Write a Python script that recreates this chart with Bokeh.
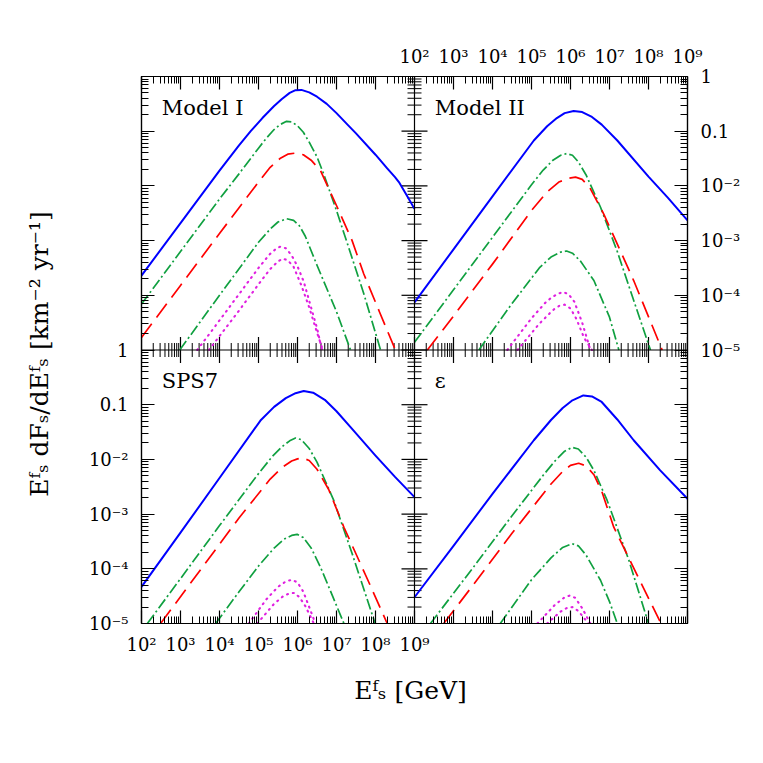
import numpy as np
from bokeh.plotting import figure
from bokeh.models import Range1d, LogAxis, FixedTicker, CustomJSTickFormatter, Label, Span
from bokeh.embed import file_html
from bokeh.resources import INLINE

# ---------------- data (log10 E [GeV], log10 flux) ----------------
panel_titles = ["Model I", "Model II", "SPS7", "ε"]
x_exps = [2, 3, 4, 5, 6, 7, 8, 9]
x_labels = ["10²", "10³", "10⁴", "10⁵", "10⁶", "10⁷", "10⁸", "10⁹"]
y_exps = [0, -1, -2, -3, -4, -5]
y_labels = ["1", "0.1", "10⁻²", "10⁻³", "10⁻⁴", "10⁻⁵"]
x_title = "Eᶠₛ  [GeV]"
y_title = "Eᶠₛ dFₛ/dEᶠₛ  [km⁻² yr⁻¹]"

# Model I
m1_tot_lx = [2.0, 3.0, 4.0, 4.5, 4.8, 5.1, 5.4, 5.6, 5.8, 5.95, 6.1, 6.3, 6.5, 6.75, 7.0, 7.27, 7.5, 8.0, 8.3, 8.5, 8.6, 8.8, 9.0]
m1_tot_ly = [-3.64, -2.68, -1.72, -1.26, -1.0, -0.76, -0.54, -0.41, -0.30, -0.25, -0.245, -0.29, -0.37, -0.5, -0.67, -0.87, -1.04, -1.43, -1.68, -1.84, -1.93, -2.17, -2.42]
m1_gA_lx = [2.0, 3.0, 4.0, 4.5, 5.0, 5.2, 5.4, 5.55, 5.72, 5.85, 6.0, 6.15, 6.3, 6.5, 6.67, 7.0, 7.3, 7.7, 8.13]
m1_gA_ly = [-4.16, -3.2, -2.24, -1.78, -1.31, -1.13, -0.97, -0.88, -0.82, -0.83, -0.9, -1.02, -1.2, -1.47, -1.78, -2.45, -3.1, -3.97, -5.0]
m1_red_lx = [2.0, 3.0, 4.0, 5.0, 5.3, 5.55, 5.75, 5.95, 6.15, 6.35, 6.59, 7.02, 7.4, 7.7, 8.1, 8.51]
m1_red_ly = [-4.77, -3.82, -2.87, -1.93, -1.66, -1.5, -1.42, -1.40, -1.43, -1.53, -1.72, -2.39, -3.0, -3.61, -4.3, -5.0]
m1_gB_lx = [2.98, 4.0, 5.0, 5.3, 5.5, 5.72, 5.9, 6.05, 6.2, 6.5, 7.0, 7.36]
m1_gB_ly = [-5.0, -4.0, -3.03, -2.79, -2.66, -2.60, -2.63, -2.73, -2.92, -3.45, -4.3, -5.0]
m1_mA_lx = [3.43, 4.0, 4.5, 5.0, 5.3, 5.45, 5.56, 5.7, 5.85, 6.0, 6.16, 6.3, 6.5, 6.63]
m1_mA_ly = [-5.0, -4.46, -3.98, -3.5, -3.24, -3.15, -3.11, -3.14, -3.27, -3.47, -3.75, -4.1, -4.6, -5.0]
m1_mB_lx = [3.73, 4.5, 5.0, 5.3, 5.5, 5.62, 5.75, 5.9, 6.1, 6.3, 6.5, 6.65]
m1_mB_ly = [-5.0, -4.28, -3.8, -3.52, -3.38, -3.33, -3.36, -3.48, -3.82, -4.22, -4.68, -5.0]

# Model II
m2_tot_lx = [2.0, 3.0, 4.0, 5.06, 5.4, 5.65, 5.85, 6.08, 6.3, 6.55, 6.8, 7.2, 8.0, 8.5, 9.0]
m2_tot_ly = [-4.13, -3.16, -2.19, -1.17, -0.91, -0.76, -0.67, -0.63, -0.65, -0.74, -0.88, -1.17, -1.83, -2.22, -2.63]
m2_gA_lx = [2.0, 3.0, 4.0, 5.0, 5.3, 5.55, 5.75, 5.9, 6.05, 6.2, 6.4, 6.77, 7.2, 7.6, 8.05]
m2_gA_ly = [-4.86, -3.9, -2.94, -1.98, -1.71, -1.53, -1.44, -1.41, -1.44, -1.56, -1.8, -2.39, -3.2, -4.05, -5.0]
m2_red_lx = [2.33, 3.0, 4.0, 5.0, 5.4, 5.7, 5.95, 6.13, 6.3, 6.5, 6.85, 7.62, 8.35]
m2_red_ly = [-5.0, -4.38, -3.43, -2.45, -2.11, -1.93, -1.86, -1.84, -1.88, -2.04, -2.51, -3.73, -5.0]
m2_gB_lx = [3.65, 4.5, 5.2, 5.5, 5.75, 5.9, 6.05, 6.25, 6.6, 7.0, 7.24]
m2_gB_ly = [-5.0, -4.15, -3.5, -3.3, -3.21, -3.19, -3.23, -3.37, -3.73, -4.4, -5.0]
m2_mA_lx = [4.38, 5.0, 5.4, 5.65, 5.81, 5.95, 6.1, 6.3, 6.51]
m2_mA_ly = [-5.0, -4.42, -4.1, -3.98, -3.94, -3.98, -4.12, -4.5, -5.0]
m2_mB_lx = [4.64, 5.2, 5.55, 5.72, 5.85, 6.0, 6.15, 6.35, 6.55]
m2_mB_ly = [-5.0, -4.52, -4.27, -4.19, -4.17, -4.24, -4.43, -4.78, -5.0]

# SPS7
s7_tot_lx = [2.0, 3.0, 4.0, 5.05, 5.4, 5.7, 5.95, 6.16, 6.4, 6.7, 7.0, 7.36, 8.0, 8.5, 9.0]
s7_tot_ly = [-4.33, -3.34, -2.34, -1.29, -1.04, -0.88, -0.79, -0.75, -0.78, -0.91, -1.12, -1.41, -1.93, -2.32, -2.69]
s7_gA_lx = [2.15, 3.0, 4.0, 5.0, 5.35, 5.6, 5.8, 5.95, 6.1, 6.3, 6.5, 6.93, 7.4, 7.99]
s7_gA_ly = [-5.0, -4.18, -3.21, -2.26, -1.95, -1.77, -1.66, -1.61, -1.64, -1.8, -2.05, -2.75, -3.72, -5.0]
s7_red_lx = [2.49, 3.5, 4.5, 5.3, 5.6, 5.85, 6.0, 6.12, 6.3, 6.5, 6.8, 7.19, 7.8, 8.3]
s7_red_ly = [-5.0, -4.03, -3.07, -2.36, -2.15, -2.03, -1.99, -1.97, -2.02, -2.18, -2.55, -3.24, -4.2, -5.0]
s7_gB_lx = [3.9, 4.5, 5.0, 5.4, 5.65, 5.85, 5.99, 6.15, 6.35, 6.59, 6.9, 7.19]
s7_gB_ly = [-5.0, -4.42, -3.95, -3.62, -3.46, -3.39, -3.37, -3.43, -3.62, -3.97, -4.5, -5.0]
s7_mA_lx = [4.75, 5.2, 5.5, 5.7, 5.86, 6.0, 6.15, 6.3, 6.46]
s7_mA_ly = [-5.0, -4.56, -4.33, -4.23, -4.2, -4.25, -4.42, -4.7, -5.0]
s7_mB_lx = [4.97, 5.4, 5.65, 5.8, 5.92, 6.05, 6.2, 6.42]
s7_mB_ly = [-5.0, -4.64, -4.49, -4.45, -4.44, -4.52, -4.68, -5.0]

# epsilon
ep_tot_lx = [2.0, 3.0, 4.0, 5.06, 5.5, 5.8, 6.05, 6.33, 6.55, 6.8, 7.2, 7.62, 8.3, 9.0]
ep_tot_ly = [-4.52, -3.58, -2.63, -1.65, -1.28, -1.06, -0.92, -0.83, -0.85, -0.95, -1.27, -1.65, -2.2, -2.72]
ep_gA_lx = [2.41, 3.5, 4.5, 5.3, 5.6, 5.85, 6.04, 6.2, 6.4, 6.6, 6.94, 7.5, 8.0]
ep_gA_ly = [-5.0, -3.98, -3.03, -2.29, -2.03, -1.85, -1.78, -1.81, -1.96, -2.2, -2.75, -3.85, -5.0]
ep_red_lx = [2.75, 3.5, 4.5, 5.5, 5.8, 6.0, 6.21, 6.4, 6.6, 6.8, 7.11, 7.7, 8.32]
ep_red_ly = [-5.0, -4.3, -3.35, -2.45, -2.22, -2.11, -2.07, -2.12, -2.28, -2.58, -3.24, -4.1, -5.0]
ep_gB_lx = [4.2, 5.0, 5.5, 5.8, 6.04, 6.2, 6.4, 6.77, 7.0, 7.2]
ep_gB_ly = [-5.0, -4.2, -3.8, -3.61, -3.54, -3.58, -3.75, -4.21, -4.6, -5.0]
ep_mA_lx = [5.15, 5.6, 5.85, 5.98, 6.12, 6.3, 6.51]
ep_mA_ly = [-5.0, -4.66, -4.52, -4.49, -4.53, -4.72, -5.0]
ep_mB_lx = [5.4, 5.75, 5.92, 6.05, 6.2, 6.46]
ep_mB_ly = [-5.0, -4.78, -4.71, -4.70, -4.77, -5.0]

panel_curves = [
    [(m1_tot_lx, m1_tot_ly, "tot"), (m1_gA_lx, m1_gA_ly, "g"), (m1_red_lx, m1_red_ly, "red"),
     (m1_gB_lx, m1_gB_ly, "g"), (m1_mA_lx, m1_mA_ly, "m"), (m1_mB_lx, m1_mB_ly, "m")],
    [(m2_tot_lx, m2_tot_ly, "tot"), (m2_gA_lx, m2_gA_ly, "g"), (m2_red_lx, m2_red_ly, "red"),
     (m2_gB_lx, m2_gB_ly, "g"), (m2_mA_lx, m2_mA_ly, "m"), (m2_mB_lx, m2_mB_ly, "m")],
    [(s7_tot_lx, s7_tot_ly, "tot"), (s7_gA_lx, s7_gA_ly, "g"), (s7_red_lx, s7_red_ly, "red"),
     (s7_gB_lx, s7_gB_ly, "g"), (s7_mA_lx, s7_mA_ly, "m"), (s7_mB_lx, s7_mB_ly, "m")],
    [(ep_tot_lx, ep_tot_ly, "tot"), (ep_gA_lx, ep_gA_ly, "g"), (ep_red_lx, ep_red_ly, "red"),
     (ep_gB_lx, ep_gB_ly, "g"), (ep_mA_lx, ep_mA_ly, "m"), (ep_mB_lx, ep_mB_ly, "m")],
]
# panel placement: (decades shift in x, decades shift in y) -> 2x2 facets on one log-log frame
panel_shift = [(0, 5), (7, 5), (0, 0), (7, 0)]

styles = {
    "tot": dict(line_color="#0000ff", line_width=2.0, line_dash="solid", line_cap="butt"),
    "g": dict(line_color="#10a040", line_width=1.7, line_dash="11 3 2 3", line_cap="butt"),
    "red": dict(line_color="#ff0000", line_width=1.7, line_dash="17 8", line_cap="butt"),
    "m": dict(line_color="#e020e0", line_width=2.1, line_dash="1 5", line_cap="round"),
}

FONT = "DejaVu Serif"
NXD = 7   # decades per panel, x
NYD = 5   # decades per panel, y

x_major = [10.0 ** e for e in range(2, 2 + 2 * NXD + 1)]
x_minor = [m * 10.0 ** e for e in range(2, 2 + 2 * NXD) for m in range(2, 10)]
y_major = [10.0 ** e for e in range(-5, -5 + 2 * NYD + 1)]
y_minor = [m * 10.0 ** e for e in range(-5, -5 + 2 * NYD) for m in range(2, 10)]

fmt_code = """
const e = Math.round(Math.log10(tick)) - shift;
const i = exps.indexOf(e);
return i < 0 ? '' : labels[i];
"""

p = figure(width=747, height=743, x_axis_type="log", y_axis_type="log",
           x_range=Range1d(1e2, 10.0 ** (2 + 2 * NXD)), y_range=Range1d(1e-5, 10.0 ** (-5 + 2 * NYD)),
           x_axis_location=None, y_axis_location=None,
           toolbar_location=None, output_backend="svg",
           min_border_left=141, min_border_right=60, min_border_top=76, min_border_bottom=120)
p.outline_line_color = "black"
p.outline_line_width = 1.2
p.background_fill_color = "white"
p.border_fill_color = "white"


def make_axis(is_x, shift, title=None):
    if is_x:
        ticker = FixedTicker(ticks=x_major, minor_ticks=x_minor)
        fmt = CustomJSTickFormatter(args=dict(exps=x_exps, labels=x_labels, shift=shift), code=fmt_code)
    else:
        ticker = FixedTicker(ticks=y_major, minor_ticks=y_minor)
        fmt = CustomJSTickFormatter(args=dict(exps=y_exps, labels=y_labels, shift=shift), code=fmt_code)
    ax = LogAxis(ticker=ticker, formatter=fmt)
    ax.axis_line_color = "black"
    ax.axis_line_width = 1.2
    ax.major_tick_line_color = "black"
    ax.major_tick_line_width = 1.2
    ax.minor_tick_line_color = "black"
    ax.minor_tick_line_width = 1.0
    ax.major_tick_in = 13
    ax.major_tick_out = 0
    ax.minor_tick_in = 7
    ax.minor_tick_out = 0
    ax.major_label_text_font = FONT
    ax.major_label_text_color = "black"
    ax.major_label_text_font_size = "18px"
    ax.major_label_standoff = 13 if not is_x else 10
    if title is not None:
        ax.axis_label = title
        ax.axis_label_text_font = FONT
        ax.axis_label_text_font_size = "25px"
        ax.axis_label_text_font_style = "normal"
        ax.axis_label_text_color = "black"
        ax.axis_label_standoff = 32 if not is_x else 18
    return ax


p.add_layout(make_axis(False, 0, y_title), "left")
p.add_layout(make_axis(False, NYD), "right")
p.add_layout(make_axis(True, NXD), "above")
p.add_layout(make_axis(True, 0, x_title), "below")
p.xgrid.visible = False
p.ygrid.visible = False

# inner frame lines separating the four panels, with inward ticks on both sides
x_mid = 10.0 ** (2 + NXD)
y_mid = 10.0 ** (-5 + NYD)
p.add_layout(Span(location=x_mid, dimension="height", line_color="black", line_width=1.2))
p.add_layout(Span(location=y_mid, dimension="width", line_color="black", line_width=1.2))
for ticks, ln, lw in [(x_major, 13, 1.2), (x_minor, 7, 1.0)]:
    for ang in (np.pi / 2, -np.pi / 2):
        p.ray(x=ticks, y=[y_mid] * len(ticks), length=ln, length_units="screen",
              angle=ang, line_color="black", line_width=lw)
for ticks, ln, lw in [(y_major, 13, 1.2), (y_minor, 7, 1.0)]:
    for ang in (0.0, np.pi):
        p.ray(x=[x_mid] * len(ticks), y=ticks, length=ln, length_units="screen",
              angle=ang, line_color="black", line_width=lw)

for idx, curves in enumerate(panel_curves):
    sx, sy = panel_shift[idx]
    for lx, ly, kind in curves:
        xs = 10.0 ** (np.array(lx) + sx)
        ys = 10.0 ** (np.array(ly) + sy)
        p.line(xs, ys, line_join="round", **styles[kind])
    p.add_layout(Label(x=10 ** (2.52 + sx), y=10 ** (-0.574 + sy), text=panel_titles[idx],
                       text_font=FONT, text_font_size="21px", text_color="black",
                       text_baseline="alphabetic", text_align="left"))

open("out.html", "w").write(file_html(p, INLINE, title="flux"))
